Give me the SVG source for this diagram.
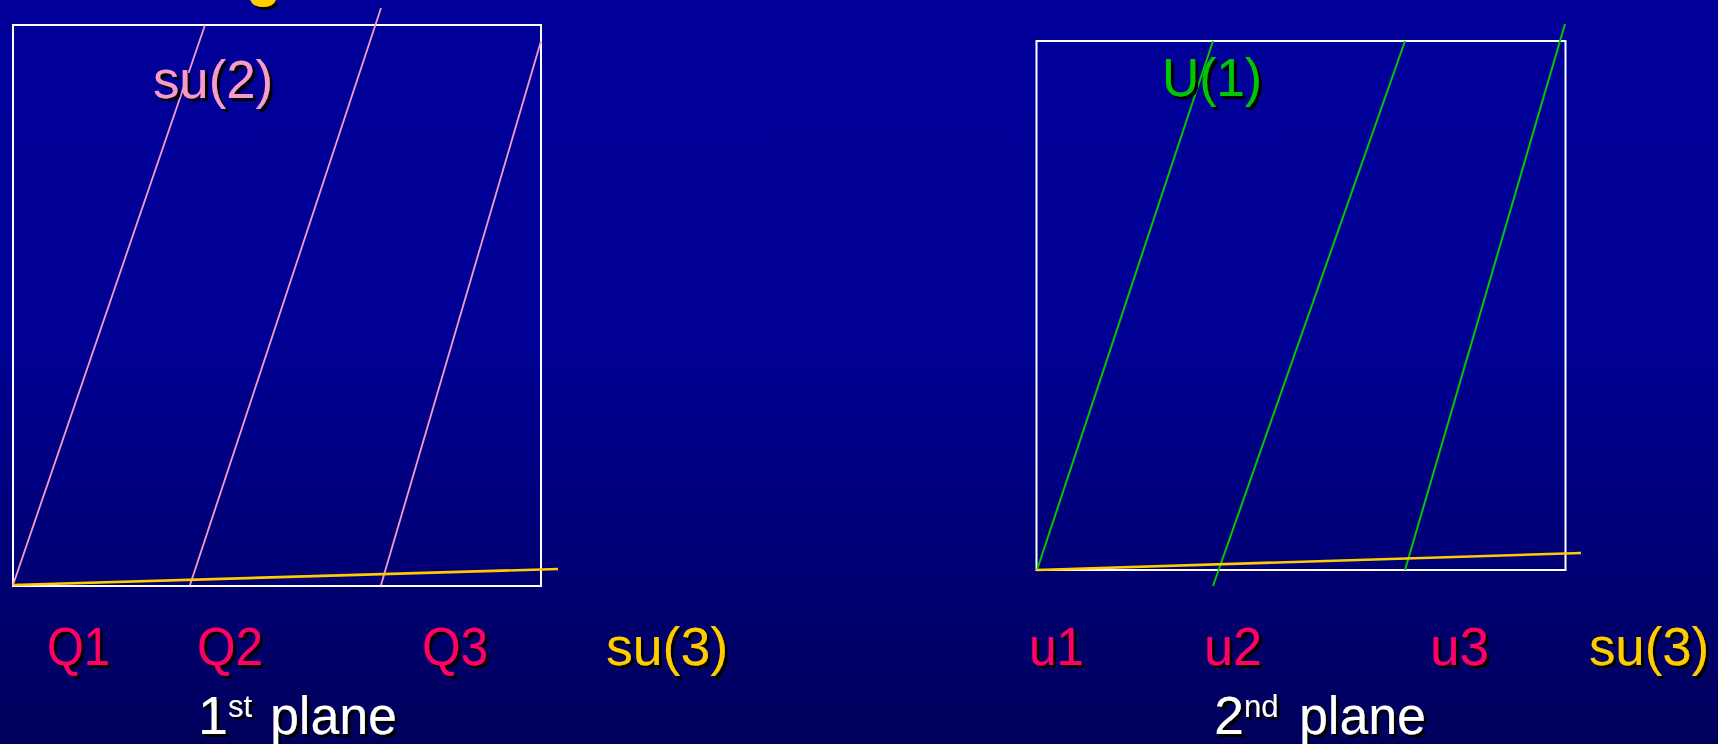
<svg xmlns="http://www.w3.org/2000/svg" width="1718" height="744" viewBox="0 0 1718 744">
<defs>
<linearGradient id="bg" x1="0" y1="0" x2="0" y2="1">
<stop offset="0" stop-color="#000099"/>
<stop offset="0.45" stop-color="#000095"/>
<stop offset="1" stop-color="#00005C"/>
</linearGradient>
<filter id="sh" x="-10%" y="-20%" width="130%" height="150%">
<feOffset in="SourceAlpha" dx="2.5" dy="2.5" result="o"/>
<feFlood flood-color="#000000"/>
<feComposite in2="o" operator="in" result="s"/>
<feMerge><feMergeNode in="s"/><feMergeNode in="SourceGraphic"/></feMerge>
</filter>
<style>
text{font-family:"Liberation Sans",Arial,sans-serif;font-size:54px;filter:url(#sh)}
.box{fill:none;stroke:#FFFFFF;stroke-width:2}
.pink{stroke:#F79CC8;stroke-width:1.8}
.green{stroke:#00C800;stroke-width:2}
.yel{stroke:#FFCC00;stroke-width:2.6}
.q{fill:#FF0066}
.su3{fill:#FFCC00}
.wt{fill:#FFFFFF}
</style>
</defs>
<rect x="0" y="0" width="1718" height="744" fill="url(#bg)"/>
<path d="M250,0 Q253,7 263,7 Q273,7 276,0 Z" fill="#FFCC00" filter="url(#sh)"/>

<g id="plane1">
<rect class="box" x="13" y="25" width="528" height="561"/>
</g>
<g id="plane2">
<rect class="box" x="1036.5" y="41" width="529" height="529"/>
</g>

<g id="connectors">
<line class="pink" x1="13" y1="585" x2="205" y2="25"/>
<line class="pink" x1="190" y1="585" x2="381" y2="8"/>
<line class="pink" x1="381" y1="585" x2="541" y2="41"/>
<line class="yel" x1="13" y1="585" x2="558" y2="569"/>
<line class="green" x1="1037" y1="570" x2="1213" y2="41"/>
<line class="green" x1="1213" y1="586" x2="1405" y2="41"/>
<line class="green" x1="1405" y1="570" x2="1565" y2="24"/>
<line class="yel" x1="1037" y1="570" x2="1581" y2="553"/>
</g>

<g id="label-su2"><text x="153" y="98" fill="#F79CC8" textLength="120" lengthAdjust="spacingAndGlyphs">su(2)</text></g>
<g id="label-u1"><text x="1162" y="96" fill="#00C800" textLength="100" lengthAdjust="spacingAndGlyphs">U(1)</text></g>

<g id="label-Q1"><text class="q" x="47" y="665" textLength="63" lengthAdjust="spacingAndGlyphs">Q1</text></g>
<g id="label-Q2"><text class="q" x="197" y="665" textLength="66" lengthAdjust="spacingAndGlyphs">Q2</text></g>
<g id="label-Q3"><text class="q" x="422" y="665" textLength="66" lengthAdjust="spacingAndGlyphs">Q3</text></g>
<g id="label-su3a"><text class="su3" x="606" y="665" textLength="122" lengthAdjust="spacingAndGlyphs">su(3)</text></g>

<g id="label-uu1"><text class="q" x="1029" y="665" textLength="55" lengthAdjust="spacingAndGlyphs">u1</text></g>
<g id="label-uu2"><text class="q" x="1204" y="665" textLength="58" lengthAdjust="spacingAndGlyphs">u2</text></g>
<g id="label-uu3"><text class="q" x="1430" y="665" textLength="59" lengthAdjust="spacingAndGlyphs">u3</text></g>
<g id="label-su3b"><text class="su3" x="1589" y="665" textLength="120" lengthAdjust="spacingAndGlyphs">su(3)</text></g>

<g id="title1"><text class="wt" x="198" y="734">1<tspan font-size="31" dy="-17">st</tspan><tspan x="270" dy="17" textLength="127" lengthAdjust="spacingAndGlyphs">plane</tspan></text></g>
<g id="title2"><text class="wt" x="1214" y="734">2<tspan font-size="31" dy="-17">nd</tspan><tspan x="1299" dy="17" textLength="127" lengthAdjust="spacingAndGlyphs">plane</tspan></text></g>
</svg>
